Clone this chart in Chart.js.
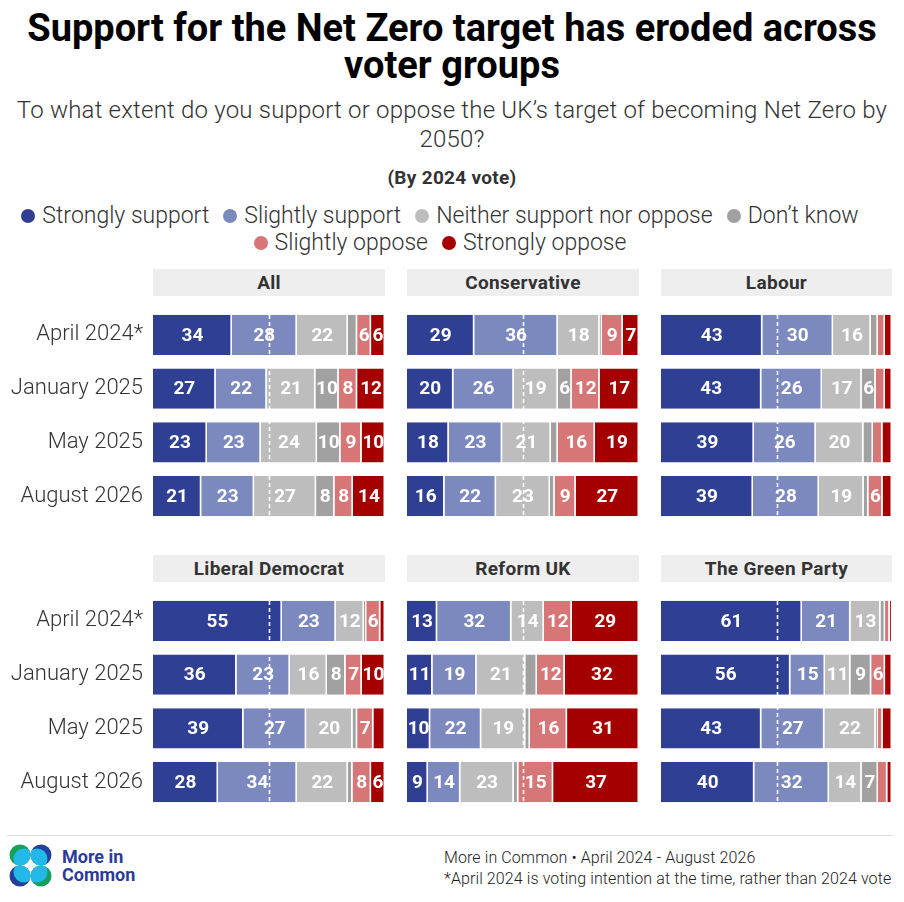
<!DOCTYPE html>
<html lang="en">

<head>
    <meta charset="UTF-8">
    <title>Net Zero support by 2024 vote</title>
    <script src="https://cdn.jsdelivr.net/npm/chart.js"></script>
    <style>
        body {
            margin: 0;
            background: #fff;
            font-family: Roboto, sans-serif;
            color: #222;
        }

        #page {
            position: relative;
            width: 904px;
            height: 902px;
            overflow: hidden;
        }

        h1 {
            position: absolute;
            top: 10px;
            left: 0;
            width: 904px;
            margin: 0;
            text-align: center;
            font-size: 38px;
            line-height: 37px;
            font-weight: 700;
            color: #000;
        }

        .subtitle {
            position: absolute;
            top: 96px;
            left: 0;
            width: 904px;
            text-align: center;
            font-size: 24px;
            line-height: 29px;
            font-weight: 300;
            letter-spacing: 0.2px;
            color: #333;
        }

        .by {
            position: absolute;
            top: 166px;
            left: 0;
            width: 904px;
            text-align: center;
            font-size: 19px;
            font-weight: 700;
            letter-spacing: 0.3px;
            color: #333;
        }

        #legend {
            position: absolute;
            top: 202px;
            left: -12px;
            width: 904px;
            display: flex;
            flex-wrap: wrap;
            justify-content: center;
            font-size: 23px;
            line-height: 27px;
            font-weight: 300;
            color: #333;
        }

        .item {
            display: flex;
            align-items: center;
            margin: 0 7px;
        }

        .dot {
            width: 14px;
            height: 14px;
            border-radius: 50%;
            margin-right: 7px;
        }

        .head {
            position: absolute;
            height: 27px;
            line-height: 27px;
            background: #eeeeee;
            text-align: center;
            font-size: 19px;
            font-weight: 700;
            letter-spacing: 0.3px;
            color: #333;
        }

        .box {
            position: absolute;
        }

        #rule {
            position: absolute;
            left: 7px;
            top: 835px;
            width: 886px;
            height: 1px;
            background: #dddddd;
        }

        #source {
            position: absolute;
            left: 444px;
            top: 847px;
            font-size: 16px;
            line-height: 21px;
            font-weight: 300;
            letter-spacing: 0.1px;
            color: #222;
        }

        #logo {
            position: absolute;
            left: 8px;
            top: 843px;
        }

        #logoText {
            position: absolute;
            left: 62px;
            top: 848px;
            font-size: 18px;
            line-height: 18px;
            font-weight: 700;
            color: #2b3c97;
        }
    </style>
</head>

<body>
    <div id="page">
        <h1>Support for the Net Zero target has eroded across<br>voter groups</h1>
        <div class="subtitle">To what extent do you support or oppose the UK’s target of becoming Net Zero by<br>2050?</div>
        <div class="by">(By 2024 vote)</div>
        <div id="legend"></div>
        <div id="panels"></div>
        <div id="rule"></div>
        <svg id="logo" width="46" height="46" viewBox="0 0 46 46">
            <defs>
                <clipPath id="c1"><circle cx="12" cy="12" r="10.5" /></clipPath>
                <clipPath id="c2"><circle cx="33" cy="12" r="10.5" /></clipPath>
                <clipPath id="c3"><circle cx="12" cy="33" r="10.5" /></clipPath>
                <clipPath id="c4"><circle cx="33" cy="33" r="10.5" /></clipPath>
            </defs>
            <circle cx="12" cy="12" r="10.5" fill="#18a05a" />
            <circle cx="16" cy="16" r="10.5" fill="#22b8e8" clip-path="url(#c1)" />
            <circle cx="33" cy="12" r="10.5" fill="#24409a" />
            <circle cx="29" cy="16" r="10.5" fill="#22b8e8" clip-path="url(#c2)" />
            <circle cx="12" cy="33" r="10.5" fill="#24409a" />
            <circle cx="16" cy="29" r="10.5" fill="#22b8e8" clip-path="url(#c3)" />
            <circle cx="33" cy="33" r="10.5" fill="#18a05a" />
            <circle cx="29" cy="29" r="10.5" fill="#22b8e8" clip-path="url(#c4)" />
        </svg>
        <div id="logoText">More in<br>Common</div>
        <div id="source">More in Common • April 2024 - August 2026<br>*April 2024 is voting intention at the time, rather than 2024 vote</div>
    </div>

    <script>
        // periods shown on every panel
        const categories = ['April 2024*', 'January 2025', 'May 2025', 'August 2026'];

        const seriesNames = ['Strongly support', 'Slightly support', 'Neither support nor oppose',
            'Don’t know', 'Slightly oppose', 'Strongly oppose'];
        const seriesColors = ['#2f3f93', '#7b89be', '#bdbdbd', '#a1a1a1', '#d77676', '#a50000'];

        // one row per period: strongly support .. strongly oppose
        const allVoters = [
            [34, 28, 22, 4, 6, 6],
            [27, 22, 21, 10, 8, 12],
            [23, 23, 24, 10, 9, 10],
            [21, 23, 27, 8, 8, 14]
        ];
        const conservative = [
            [29, 36, 18, 1, 9, 7],
            [20, 26, 19, 6, 12, 17],
            [18, 23, 21, 3, 16, 19],
            [16, 22, 23, 2, 9, 27]
        ];
        const labour = [
            [43, 30, 16, 3, 3, 3],
            [43, 26, 17, 6, 4, 3],
            [39, 26, 20, 4, 4, 4],
            [39, 28, 19, 2, 6, 4]
        ];
        const libDem = [
            [55, 23, 12, 1, 6, 2],
            [36, 23, 16, 8, 7, 10],
            [39, 27, 20, 2, 7, 5],
            [28, 34, 22, 2, 8, 6]
        ];
        const reform = [
            [13, 32, 14, 0, 12, 29],
            [11, 19, 21, 5, 12, 32],
            [10, 22, 19, 2, 16, 31],
            [9, 14, 23, 2, 15, 37]
        ];
        const green = [
            [61, 21, 13, 2, 2, 1],
            [56, 15, 11, 9, 6, 3],
            [43, 27, 22, 1, 2, 4],
            [40, 32, 14, 7, 4, 2]
        ];

        const panelTitles = ['All', 'Conservative', 'Labour', 'Liberal Democrat', 'Reform UK', 'The Green Party'];
        const panelData = [allVoters, conservative, labour, libDem, reform, green];

        // legend
        const legend = document.getElementById('legend');
        seriesNames.forEach((name, i) => {
            const item = document.createElement('div');
            item.className = 'item';
            item.innerHTML = '<span class="dot" style="background:' + seriesColors[i] + '"></span>' + name;
            legend.appendChild(item);
            if (i === 3) {
                const br = document.createElement('div');
                br.style.flexBasis = '100%';
                legend.appendChild(br);
            }
        });

        // white dashed line at 50% and the numbers on the bars
        const overlay = {
            id: 'overlay',
            afterDatasetsDraw(chart) {
                const ctx = chart.ctx;
                const area = chart.chartArea;
                const x = Math.round(chart.scales.x.getPixelForValue(50)) + 0.5;
                ctx.save();
                ctx.strokeStyle = '#fff';
                ctx.lineWidth = 1.6;
                ctx.setLineDash([4, 3]);
                ctx.beginPath();
                ctx.moveTo(x, area.top);
                ctx.lineTo(x, area.bottom);
                ctx.stroke();
                ctx.setLineDash([]);

                ctx.fillStyle = '#fff';
                ctx.font = 'bold 19px Roboto';
                ctx.textAlign = 'center';
                ctx.textBaseline = 'middle';
                chart.data.datasets.forEach((ds, di) => {
                    chart.getDatasetMeta(di).data.forEach((bar, j) => {
                        const v = ds.raw[j];
                        if (v < 6) return;
                        ctx.fillText(v, (bar.x + bar.base) / 2, bar.y + 1);
                    });
                });
                ctx.restore();
            }
        };

        const panelsDiv = document.getElementById('panels');
        const colLeft = [153, 407, 661];
        const colWidth = [232, 232, 231];
        const rowHeadTop = [269, 555];
        const rowChartTop = [308, 594];
        const chartHeight = 215;
        const labelWidth = 153;

        panelData.forEach((rows, p) => {
            const col = p % 3;
            const row = Math.floor(p / 3);

            const head = document.createElement('div');
            head.className = 'head';
            head.style.left = colLeft[col] + 'px';
            head.style.top = rowHeadTop[row] + 'px';
            head.style.width = colWidth[col] + 'px';
            head.textContent = panelTitles[p];
            panelsDiv.appendChild(head);

            const withLabels = col === 0;
            const left = withLabels ? 0 : colLeft[col];
            const width = withLabels ? colLeft[col] + colWidth[col] : colWidth[col];
            const box = document.createElement('div');
            box.className = 'box';
            box.style.left = left + 'px';
            box.style.top = rowChartTop[row] + 'px';
            box.style.width = width + 'px';
            box.style.height = chartHeight + 'px';
            const canvas = document.createElement('canvas');
            box.appendChild(canvas);
            panelsDiv.appendChild(box);

            const totals = rows.map(r => r.reduce((a, b) => a + b, 0));
            const datasets = seriesNames.map((name, s) => ({
                label: name,
                raw: rows.map(r => r[s]),
                data: rows.map((r, j) => r[s] / totals[j] * 100),
                backgroundColor: seriesColors[s],
                borderColor: '#fff',
                borderWidth: { left: 0, right: 1.5, top: 0, bottom: 0 },
                borderSkipped: false,
                categoryPercentage: 1,
                barPercentage: 0.75
            }));

            const yAxis = {
                stacked: true,
                display: withLabels,
                grid: { display: false, drawTicks: false },
                border: { display: false },
                ticks: {
                    color: '#333',
                    padding: 10,
                    font: { family: 'Roboto', size: 22, weight: 300 }
                }
            };
            if (withLabels) {
                // fixed label column, and no extra room for the first/last label
                yAxis.afterFit = function (scale) {
                    scale.width = labelWidth;
                    scale.paddingTop = 0;
                    scale.paddingBottom = 0;
                };
            }

            new Chart(canvas, {
                type: 'bar',
                data: { labels: categories, datasets: datasets },
                options: {
                    indexAxis: 'y',
                    responsive: true,
                    maintainAspectRatio: false,
                    animation: false,
                    layout: { padding: 0 },
                    plugins: {
                        legend: { display: false },
                        tooltip: { enabled: false }
                    },
                    scales: {
                        x: { stacked: true, min: 0, max: 100, display: false },
                        y: yAxis
                    }
                },
                plugins: [overlay]
            });
        });
    </script>
</body>

</html>
